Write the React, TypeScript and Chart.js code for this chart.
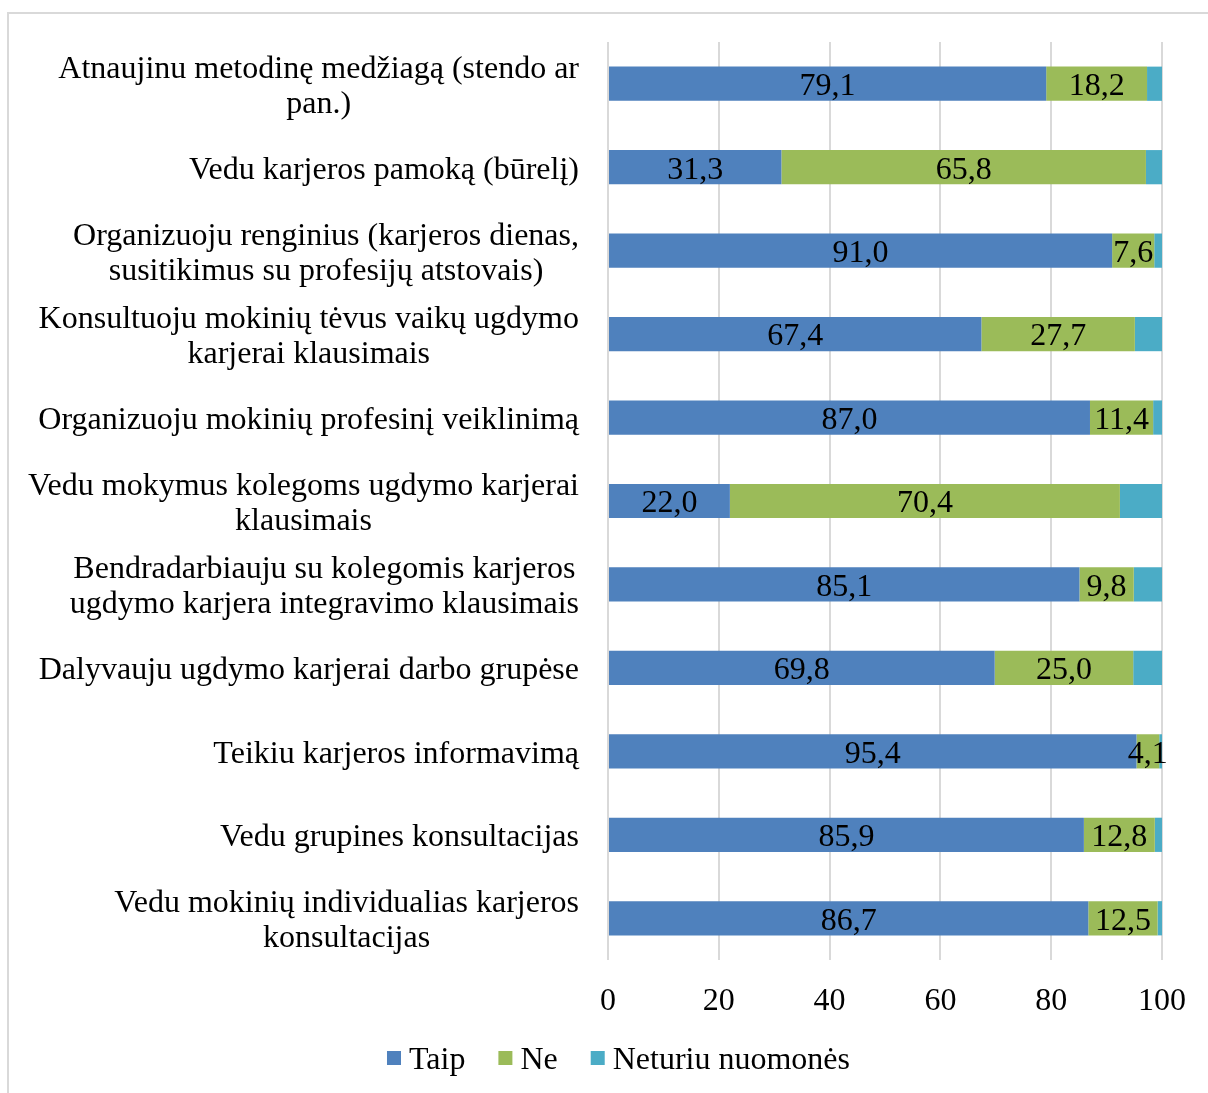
import React, { useEffect, useRef } from "react";
import { Chart, registerables } from "chart.js";

Chart.register(...registerables);

const categories: (string | string[])[] = [
  ["Atnaujinu metodinę medžiagą (stendo ar", "pan.)"],
  "Vedu karjeros pamoką (būrelį)",
  ["Organizuoju renginius (karjeros dienas,", "susitikimus su profesijų atstovais)"],
  ["Konsultuoju mokinių tėvus vaikų ugdymo", "karjerai klausimais"],
  "Organizuoju mokinių profesinį veiklinimą",
  ["Vedu mokymus kolegoms ugdymo karjerai", "klausimais"],
  ["Bendradarbiauju su kolegomis karjeros", "ugdymo karjera integravimo klausimais"],
  "Dalyvauju ugdymo karjerai darbo grupėse",
  "Teikiu karjeros informavimą",
  "Vedu grupines konsultacijas",
  ["Vedu mokinių individualias karjeros", "konsultacijas"],
];

const taip = [79.1, 31.3, 91.0, 67.4, 87.0, 22.0, 85.1, 69.8, 95.4, 85.9, 86.7];
const ne = [18.2, 65.8, 7.6, 27.7, 11.4, 70.4, 9.8, 25.0, 4.1, 12.8, 12.5];
const neturiu = [2.7, 2.9, 1.4, 4.9, 1.6, 7.6, 5.1, 5.2, 0.5, 1.3, 0.8];

const seriesNames = ["Taip", "Ne", "Neturiu nuomonės"];
const seriesColors = ["#4F81BD", "#9BBB59", "#4BACC6"];
const xTicks = [0, 20, 40, 60, 80, 100];

const FONT = "'Liberation Serif', 'Times New Roman', serif";
const FS = 32;

const framePlugin = {
  id: "frame",
  beforeDraw(chart: any) {
    const ctx = chart.ctx;
    ctx.save();
    ctx.fillStyle = "#ffffff";
    ctx.fillRect(0, 0, chart.width, chart.height);
    ctx.strokeStyle = "#d9d9d9";
    ctx.lineWidth = 2;
    ctx.beginPath();
    ctx.moveTo(7, 13);
    ctx.lineTo(chart.width, 13);
    ctx.moveTo(8, 12);
    ctx.lineTo(8, chart.height);
    ctx.stroke();
    ctx.restore();
  },
};

const labelsPlugin = {
  id: "customLabels",
  afterDraw(chart: any) {
    const ctx = chart.ctx;
    const yScale = chart.scales.y;
    ctx.save();
    ctx.font = `${FS}px ${FONT}`;
    ctx.fillStyle = "#000000";
    ctx.textBaseline = "middle";
    ctx.textAlign = "center";
    const right = chart.chartArea.left - 29;
    const lh = 35;
    categories.forEach((c, i) => {
      const lines = Array.isArray(c) ? c : [c];
      const w = Math.max(...lines.map((l) => ctx.measureText(l).width));
      const cx = right - w / 2;
      const cy = yScale.getPixelForValue(i) + 3;
      const y0 = cy - ((lines.length - 1) * lh) / 2;
      lines.forEach((l, k) => ctx.fillText(l, cx, y0 + k * lh));
    });
    // data labels
    [0, 1].forEach((di) => {
      const meta = chart.getDatasetMeta(di);
      const data = chart.data.datasets[di].data as number[];
      meta.data.forEach((bar: any, i: number) => {
        const x = (bar.x + bar.base) / 2;
        ctx.fillText(data[i].toFixed(1).replace(".", ","), x, bar.y + 3);
      });
    });
    // legend
    const boxS = 14;
    const gap = 8;
    const spacing = 33;
    const legendCY = 1058;
    const widths = seriesNames.map((n) => boxS + gap + ctx.measureText(n).width);
    const total = widths.reduce((a, b) => a + b, 0) + spacing * (widths.length - 1);
    let x = 618.5 - total / 2;
    ctx.textAlign = "left";
    seriesNames.forEach((n, i) => {
      ctx.fillStyle = seriesColors[i];
      ctx.fillRect(x, legendCY - boxS / 2, boxS, boxS);
      ctx.fillStyle = "#000000";
      ctx.fillText(n, x + boxS + gap, legendCY + 3);
      x += widths[i] + spacing;
    });
    ctx.restore();
  },
};

export default function App() {
  const ref = useRef<HTMLCanvasElement>(null);
  useEffect(() => {
    if (!ref.current) return;
    const chart = new Chart(ref.current, {
      type: "bar",
      data: {
        labels: categories.map((c) => (Array.isArray(c) ? c.join(" ") : c)),
        datasets: [taip, ne, neturiu].map((d, i) => ({
          label: seriesNames[i],
          data: d,
          backgroundColor: seriesColors[i],
          borderWidth: 0,
          barPercentage: 0.41,
          categoryPercentage: 1,
        })),
      },
      options: {
        indexAxis: "y",
        animation: false,
        responsive: false,
        devicePixelRatio: 1,
        layout: { padding: { top: 42, right: 44, bottom: 0, left: 0 } },
        scales: {
          x: {
            stacked: true,
            min: 0,
            max: 100,
            afterBuildTicks: (scale: any) => {
              scale.ticks = xTicks.map((v) => ({ value: v }));
            },
            afterFit: (scale: any) => {
              scale.height = 133;
            },
            grid: { color: "#d9d9d9", lineWidth: 2, drawTicks: false },
            border: { display: false },
            ticks: {
              padding: 22,
              color: "#000000",
              font: { family: FONT, size: FS },
            },
          },
          y: {
            stacked: true,
            grid: { display: false },
            border: { display: false },
            ticks: { display: false },
            afterFit: (scale: any) => {
              scale.width = 608;
            },
          },
        },
        plugins: {
          legend: { display: false },
          tooltip: { enabled: false },
        },
      },
      plugins: [framePlugin, labelsPlugin],
    } as any);
    return () => chart.destroy();
  }, []);
  return (
    <div style={{ position: "fixed", left: 0, top: 0, width: 1208, height: 1093 }}>
      <canvas ref={ref} width={1208} height={1093} style={{ width: 1208, height: 1093, display: "block" }} />
    </div>
  );
}
